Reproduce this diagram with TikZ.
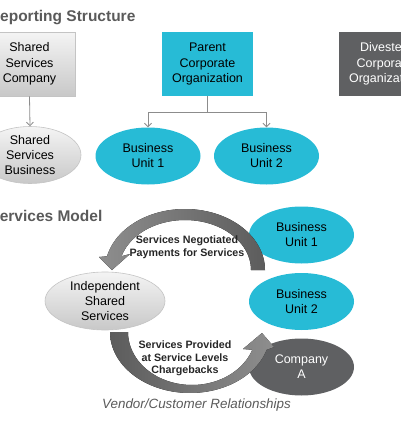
\documentclass[tikz,border=0pt]{standalone}
\usepackage{fontspec}
\setmainfont{Liberation Sans}
\usetikzlibrary{arrows.meta,shapes.geometric}
\definecolor{cyanc}{HTML}{27BBD6}
\definecolor{darkc}{HTML}{5F6062}
\definecolor{titlec}{HTML}{5A5A5A}
\definecolor{linec}{HTML}{8C8C8C}
\definecolor{lgtop}{HTML}{F4F4F4}
\definecolor{lgbot}{HTML}{C8C8C8}
\definecolor{lgline}{HTML}{C4C4C4}
\definecolor{arlight}{HTML}{8E8E8E}
\definecolor{ardark}{HTML}{5C5C5C}
\begin{document}
\begin{tikzpicture}[x=1pt,y=-1pt,
  basebox/.style={rectangle, minimum width=91pt, minimum height=64pt, inner sep=0pt,
    align=center, font=\fontsize{12.5}{15.5}\selectfont},
  graybox/.style={basebox, top color=lgtop, bottom color=lgbot, draw=lgline, line width=0.6pt},
  cyanbox/.style={basebox, fill=cyanc},
  darkbox/.style={basebox, fill=darkc, text=white},
  baseell/.style={ellipse, minimum width=105pt, minimum height=57pt, inner sep=0pt,
    align=center, font=\fontsize{12.5}{15}\selectfont},
  grayell/.style={baseell, top color=lgtop, bottom color=lgbot, draw=lgline, line width=0.6pt},
  cyanell/.style={baseell, fill=cyanc},
  darkell/.style={baseell, fill=darkc, text=white},
  conn/.style={draw=linec, line width=0.8pt},
  connarr/.style={conn, -{Straight Barb[length=3.5pt,width=7pt]}},
  ttl/.style={anchor=base west, inner sep=0pt, text=titlec, font=\fontsize{15.5}{18}\selectfont\bfseries},
  lbl/.style={align=center, inner sep=0pt, text=black!85, font=\fontsize{10.7}{12.5}\selectfont\bfseries},
]
\useasboundingbox (0,0) rectangle (400,434);

% --- Reporting structure ---
\node[ttl] (t1) at (-11.2,21) {Reporting Structure};

\node[graybox] (ssc) at (29.5,64) {Shared\\Services\\Company};
\node[cyanbox] (pco) at (207.5,64) {Parent\\Corporate\\Organization};
\node[darkbox] (dco) at (384.5,64) {Divested\\Corporate\\Organization};

\node[grayell, minimum width=102pt] (ssb) at (30,155) {Shared\\Services\\Business};
\node[cyanell] (bu1) at (148,156) {Business\\Unit 1};
\node[cyanell] (bu2) at (266.5,156) {Business\\Unit 2};

\draw[connarr] (ssc.south) -- (ssb.north);
\coordinate (j) at (207.5,112);
\draw[conn] (pco.south) -- (j);
\draw[connarr] (j) -| (bu1.north);
\draw[connarr] (j) -| (bu2.north);

% --- Services model ---
\node[ttl] (t2) at (-10.7,221) {Services Model};

\node[cyanell] (bu1b) at (301.5,235) {Business\\Unit 1};
\node[cyanell] (bu2b) at (301.5,301.5) {Business\\Unit 2};
\node[darkell] (coa) at (301.5,367) {Company\\A};
\node[grayell, minimum width=120pt, minimum height=58pt] (iss) at (105,301) {Independent\\Shared\\Services};

% top curved arrow
\fill[left color=arlight, right color=ardark]
  plot[domain=0:167,samples=60] ({185+80*cos(\x)},{270-61*sin(\x)})
  -- (99,257) -- (112,270) -- (130,254)
  -- plot[domain=164:0,samples=60] ({185+66*cos(\x)},{270-50*sin(\x)})
  -- cycle;

% bottom curved arrow
\fill[left color=ardark, right color=arlight]
  plot[domain=0:163,samples=60] ({190-80*cos(\x)},{332+61*sin(\x)})
  -- (274,347) -- (262,333) -- (243,349)
  -- plot[domain=160.4:0,samples=60] ({192-64*cos(\x)},{332+53*sin(\x)})
  -- cycle;

\node[lbl] (l1) at (187,247) {Services Negotiated\\Payments for Services};
\node[lbl] (l2) at (185,358.5) {Services Provided\\at Service Levels\\Chargebacks};

\node[inner sep=0pt, text=titlec, font=\fontsize{13.4}{16}\selectfont\itshape] (vc) at (196.5,405) {Vendor/Customer Relationships};
\end{tikzpicture}
\end{document}
